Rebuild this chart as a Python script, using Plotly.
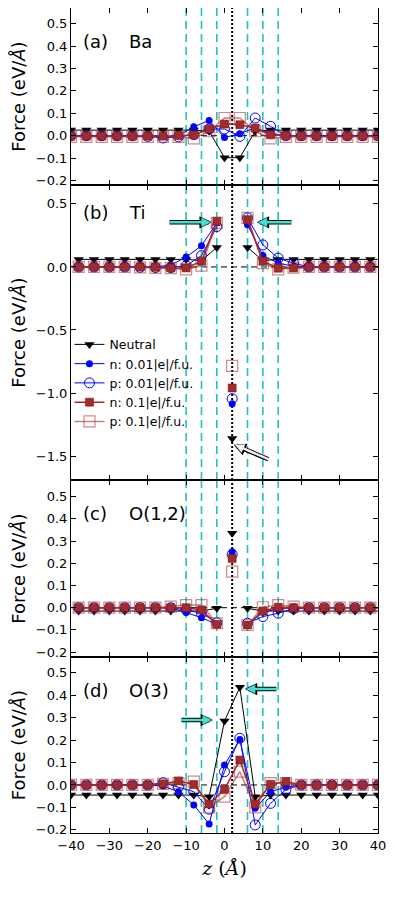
import plotly.graph_objects as go
from plotly.subplots import make_subplots

# z positions (Angstrom)
z_ba = [-40, -36, -32, -28, -24, -20, -16, -12, -8, -4, 0, 4, 8, 12, 16, 20, 24, 28, 32, 36, 40]
z_ti = [-38, -34, -30, -26, -22, -18, -14, -10, -6, -2, 2, 6, 10, 14, 18, 22, 26, 30, 34, 38, 42]
z_mid = [2]

labels = ["Neutral", "n: 0.01|e|/f.u.", "p: 0.01|e|/f.u.", "n: 0.1|e|/f.u.", "p: 0.1|e|/f.u."]

# (a) Ba
ba_neutral = [0.025, 0.025, 0.025, 0.025, 0.025, 0.025, 0.025, 0.025, 0.025, 0.02, -0.098, -0.098, 0.02, 0.025, 0.025, 0.025, 0.025, 0.025, 0.025, 0.025, 0.025]
ba_n001 = [0.0, 0.0, 0.0, 0.0, 0.0, -0.002, -0.005, 0.0, 0.04, 0.068, -0.008, 0.009, 0.035, 0.01, 0.0, 0.0, 0.0, 0.0, 0.0, 0.0, 0.0]
ba_p001 = [0.0, 0.0, 0.0, 0.0, 0.0, -0.003, -0.01, -0.005, 0.005, 0.03, 0.03, -0.003, 0.079, 0.042, 0.0, 0.0, 0.0, 0.0, 0.0, 0.0, 0.0]
ba_n01 = [-0.002, -0.002, -0.002, -0.002, -0.002, -0.002, -0.002, 0.0, 0.004, 0.03, 0.052, 0.049, 0.034, 0.004, 0.0, -0.002, -0.002, -0.002, -0.002, -0.002, -0.002]
ba_p01 = [-0.005, -0.005, -0.005, -0.005, -0.005, -0.005, -0.005, -0.005, -0.012, 0.02, 0.079, 0.079, 0.02, -0.012, -0.005, -0.005, -0.005, -0.005, -0.005, -0.005, -0.005]

# (b) Ti  (centre plane at z=2 plotted on its own)
ti_neutral = [0.06, 0.06, 0.06, 0.06, 0.06, 0.06, 0.06, 0.06, 0.05, 0.155, None, 0.155, 0.05, 0.06, 0.06, 0.06, 0.06, 0.06, 0.06, 0.06, 0.06]
ti_n001 = [0.0, 0.0, 0.0, 0.0, 0.0, 0.0, 0.015, 0.078, 0.168, 0.35, None, 0.335, 0.09, 0.03, 0.005, 0.0, 0.0, 0.0, 0.0, 0.0, 0.0]
ti_p001 = [0.0, 0.0, 0.0, 0.0, -0.003, -0.005, -0.005, 0.01, 0.09, 0.32, None, 0.39, 0.175, 0.07, 0.03, 0.0, 0.0, 0.0, 0.0, 0.0, 0.0]
ti_n01 = [0.0, 0.0, 0.0, 0.0, 0.0, -0.003, -0.008, -0.008, 0.045, 0.362, None, 0.375, 0.045, -0.01, -0.008, 0.0, 0.0, 0.0, 0.0, 0.0, 0.0]
ti_p01 = [0.0, 0.0, 0.0, 0.0, -0.003, -0.008, -0.01, -0.02, 0.01, 0.35, None, 0.39, 0.03, -0.02, -0.005, 0.0, 0.0, 0.0, 0.0, 0.0, 0.0]
ti_mid = [-1.36, -1.085, -1.045, -0.96, -0.785]

# (c) O(1,2)
o12_neutral = [-0.015, -0.015, -0.015, -0.015, -0.015, -0.015, -0.015, -0.015, -0.015, -0.003, None, -0.003, -0.015, -0.015, -0.015, -0.015, -0.015, -0.015, -0.015, -0.015, -0.015]
o12_n001 = [0.0, 0.0, 0.0, 0.0, 0.0, 0.0, 0.0, -0.022, -0.045, -0.075, None, -0.078, -0.02, -0.005, 0.0, 0.0, 0.0, 0.0, 0.0, 0.0, 0.0]
o12_p001 = [0.0, 0.0, 0.0, 0.0, 0.0, 0.0, 0.0, -0.01, -0.025, -0.068, None, -0.07, -0.04, -0.025, -0.005, 0.0, 0.0, 0.0, 0.0, 0.0, 0.0]
o12_n01 = [0.0, 0.0, 0.0, 0.0, 0.0, 0.0, 0.0, 0.0, -0.01, -0.075, None, -0.078, -0.015, 0.002, 0.0, 0.0, 0.0, 0.0, 0.0, 0.0, 0.0]
o12_p01 = [0.0, 0.0, 0.0, 0.0, 0.0, 0.0, 0.005, 0.012, 0.012, -0.07, None, -0.078, 0.002, 0.012, 0.005, 0.0, 0.0, 0.0, 0.0, 0.0, 0.0]
o12_mid = [0.335, 0.252, 0.24, 0.222, 0.162]

# (d) O(3)
o3_neutral = [-0.045, -0.045, -0.045, -0.045, -0.045, -0.045, -0.045, -0.045, -0.045, -0.052, 0.285, 0.435, -0.052, -0.045, -0.045, -0.045, -0.045, -0.045, -0.045, -0.045, -0.045]
o3_n001 = [0.0, 0.0, 0.0, 0.0, 0.0, 0.0, -0.005, -0.03, -0.089, -0.174, 0.089, 0.203, -0.104, -0.03, -0.01, 0.0, 0.0, 0.0, 0.0, 0.0, 0.0]
o3_p001 = [0.0, 0.0, 0.0, 0.0, 0.0, 0.0, 0.01, -0.01, -0.03, -0.108, 0.059, 0.208, -0.178, -0.082, -0.02, 0.0, 0.0, 0.0, 0.0, 0.0, 0.0]
o3_n01 = [0.0, 0.0, 0.0, 0.0, 0.0, 0.0, 0.005, 0.018, 0.002, -0.085, -0.02, 0.111, -0.085, 0.003, 0.015, 0.0, 0.0, 0.0, 0.0, 0.0, 0.0]
o3_p01 = [0.0, 0.0, 0.0, 0.0, 0.0, 0.0, 0.005, 0.008, 0.015, -0.1, -0.052, 0.059, -0.1, 0.008, 0.008, 0.0, 0.0, 0.0, 0.0, 0.0, 0.0]

layer_planes = [-10, -6, -2, 6, 10, 14]
centre = 2

brown = "#a52a2a"
styles = [
    dict(line=dict(color="black", width=1), marker=dict(symbol="triangle-down", size=9, color="black")),
    dict(line=dict(color="#0000ff", width=1), marker=dict(symbol="circle", size=7, color="#0000ff")),
    dict(line=dict(color="#0000ff", width=1),
         marker=dict(symbol="circle-open", size=10, color="#0000ff", line=dict(width=1))),
    dict(line=dict(color=brown, width=1.5),
         marker=dict(symbol="square", size=8, color=brown, line=dict(color="#5a1010", width=0.5))),
    dict(line=dict(color="rgba(165,42,42,0.6)", width=1.5),
         marker=dict(symbol="square-open", size=11, color="rgba(165,42,42,0.55)", line=dict(width=1.2))),
]

panels = [
    (z_ba, [ba_neutral, ba_n001, ba_p001, ba_n01, ba_p01], None, "(a)", "Ba", [-0.22, 0.57], 0.42),
    (z_ti, [ti_neutral, ti_n001, ti_p001, ti_n01, ti_p01], ti_mid, "(b)", "Ti", [-1.69, 0.65], 0.43),
    (z_ti, [o12_neutral, o12_n001, o12_p001, o12_n01, o12_p01], o12_mid, "(c)", "O(1,2)", [-0.222, 0.575], 0.425),
    (z_ba, [o3_neutral, o3_n001, o3_p001, o3_n01, o3_p01], None, "(d)", "O(3)", [-0.214, 0.57], 0.423),
]

fig = make_subplots(rows=4, cols=1, shared_xaxes=True, vertical_spacing=0,
                    row_heights=[177, 295, 177, 176])

for r, (zs, series, mid, tag, name, yr, ylab) in enumerate(panels, start=1):
    sfx = "" if r == 1 else str(r)
    # zero line, centre plane and layer planes
    fig.add_shape(type="line", xref="x" + sfx + " domain", yref="y" + sfx, x0=0, x1=1, y0=0, y1=0,
                  line=dict(color="black", width=1, dash="6px,4px"), layer="below")
    for zp in layer_planes:
        fig.add_shape(type="line", xref="x" + sfx, yref="y" + sfx + " domain", x0=zp, x1=zp, y0=0, y1=1,
                      line=dict(color="#22c2c2", width=1.6, dash="8px,5px"), layer="below")
    fig.add_shape(type="line", xref="x" + sfx, yref="y" + sfx + " domain", x0=centre, x1=centre, y0=0, y1=1,
                  line=dict(color="black", width=2, dash="2px,2px"), layer="below")

    for k, ys in enumerate(series):
        fig.add_trace(go.Scatter(x=zs, y=ys, mode="lines+markers", name=labels[k],
                                 showlegend=(r == 2), legendgroup=labels[k],
                                 connectgaps=False, **styles[k]), row=r, col=1)
        if mid is not None:
            st = styles[k]
            fig.add_trace(go.Scatter(x=z_mid, y=[mid[k]], mode="markers", showlegend=False,
                                     legendgroup=labels[k], marker=st["marker"]), row=r, col=1)

    fig.add_annotation(text=tag, x=-37.5, y=ylab, xref="x" + sfx, yref="y" + sfx,
                       xanchor="left", yanchor="middle", showarrow=False,
                       font=dict(size=18, color="black"))
    fig.add_annotation(text=name, x=-25.5, y=ylab, xref="x" + sfx, yref="y" + sfx,
                       xanchor="left", yanchor="middle", showarrow=False,
                       font=dict(size=18, color="black"))

    fig.update_yaxes(range=yr, row=r, col=1)

fig.update_yaxes(dtick=0.1, tickformat=".1f")
fig.update_yaxes(dtick=0.5, tickformat=".1f", row=2, col=1)


def fancy_arrow(sfx, x0, y0, x1, y1, fill):
    fig.add_annotation(x=x1, y=y1, ax=x0, ay=y0, xref="x" + sfx, yref="y" + sfx,
                       axref="x" + sfx, ayref="y" + sfx, text="", showarrow=True,
                       arrowhead=2, arrowsize=0.55, arrowwidth=4.5, arrowcolor="black")
    fig.add_annotation(x=x1 - 0.3 * (1 if x1 > x0 else -1), y=y1, ax=x0, ay=y0,
                       xref="x" + sfx, yref="y" + sfx, axref="x" + sfx, ayref="y" + sfx,
                       text="", showarrow=True, arrowhead=2, arrowsize=0.75,
                       arrowwidth=2.5, arrowcolor=fill)


fancy_arrow("2", -14.7, 0.354, -3.3, 0.354, "#40e0d0")
fancy_arrow("2", 17.8, 0.354, 8.4, 0.354, "#40e0d0")
fancy_arrow("2", 11.8, -1.53, 2.4, -1.41, "#f0f0f0")
fancy_arrow("4", -11.6, 0.289, -3.0, 0.289, "#40e0d0")
fancy_arrow("4", 13.9, 0.427, 5.3, 0.427, "#40e0d0")

axis_common = dict(showline=True, linecolor="black", linewidth=1, mirror="allticks",
                   ticks="inside", ticklen=5, tickcolor="black", showgrid=False, zeroline=False,
                   tickfont=dict(size=13, color="black"))
fig.update_xaxes(range=[-40.001, 40.001], dtick=10, tick0=0, **axis_common)
fig.update_yaxes(title=dict(text="Force (eV/<i>Å</i>)", font=dict(size=18, color="black"), standoff=8),
                 **axis_common)
fig.update_xaxes(title=dict(text="<i>z</i> (<i>Å</i>)", font=dict(size=19, family="DejaVu Serif", color="black"),
                             standoff=10), row=4, col=1)

# page body keeps its default 8px margin, so the figure is drawn 8px smaller
fig.update_layout(
    width=387, height=889,
    margin=dict(l=63, r=17, t=0, b=64),
    paper_bgcolor="white", plot_bgcolor="white",
    font=dict(family="DejaVu Sans", color="black"),
    legend=dict(x=-0.005, y=0.61, xanchor="left", yanchor="top", bgcolor="rgba(0,0,0,0)",
                font=dict(size=12.5), tracegroupgap=0, itemwidth=30),
    showlegend=True,
)

fig.write_html("out.html")
